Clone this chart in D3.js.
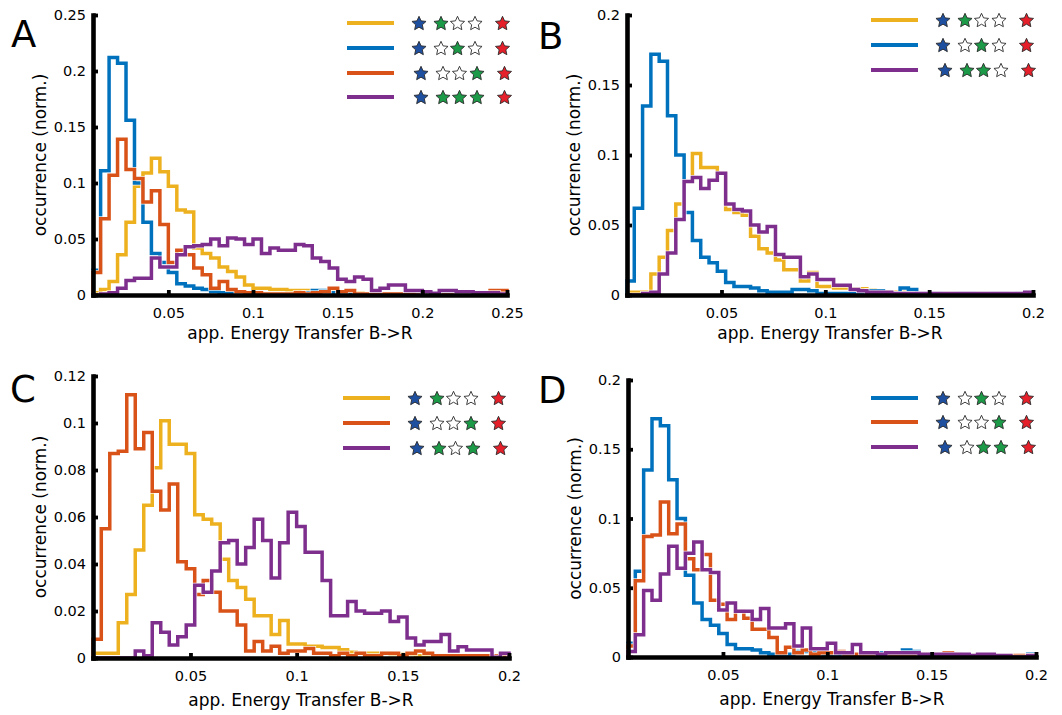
<!DOCTYPE html>
<html>
<head>
<meta charset="utf-8">
<script src="https://cdn.jsdelivr.net/npm/d3@7"></script>
<style>
  body { margin: 0; background: #fff; }
  svg text { font-family: "DejaVu Sans", sans-serif; fill: #000; }
</style>
</head>
<body>
<svg id="fig" width="1062" height="715"></svg>
<script>
// bin heights
// panel A: bins of 0.005 starting at 0.005
const aYellow = [0.002, 0.005, 0.012, 0.036, 0.065, 0.097, 0.109, 0.122, 0.110, 0.097,
  0.076, 0.074, 0.042, 0.037, 0.033, 0.025, 0.021, 0.016, 0.009, 0.006,
  0.006, 0.005, 0.005, 0.004, 0.004, 0.004, 0.003, 0.003, 0.003, 0.002,
  0.002, 0.002, 0.001, 0.001, 0.001, 0.001, 0.001, 0.001, 0.001, 0.001,
  0, 0, 0, 0, 0, 0, 0, 0, 0]
const aBlue = [0.022, 0.111, 0.212, 0.207, 0.156, 0.100, 0.065, 0.037, 0.029, 0.020,
  0.010, 0.008, 0.006, 0.005, 0.003, 0.002, 0.002, 0.001, 0.001, 0.001,
  0.001, 0.001, 0.001, 0.001, 0.001, 0.002, 0.004, 0.004, 0.002, 0.001,
  0.001, 0.001, 0, 0, 0, 0, 0, 0, 0, 0,
  0, 0, 0, 0, 0, 0, 0, 0, 0]
const aOrange = [0.020, 0.068, 0.107, 0.139, 0.112, 0.104, 0.083, 0.093, 0.063, 0.029,
  0.040, 0.036, 0.024, 0.018, 0.006, 0.012, 0.005, 0.003, 0.002, 0.002,
  0.001, 0.001, 0.001, 0.001, 0.002, 0.001, 0.002, 0.003, 0.006, 0.003,
  0.004, 0.001, 0.001, 0.001, 0.001, 0.001, 0.001, 0.001, 0, 0,
  0, 0, 0, 0, 0, 0, 0, 0.004, 0.004]
const aPurple = [0, 0.001, 0.002, 0.006, 0.013, 0.015, 0.015, 0.033, 0.025, 0.025,
  0.036, 0.043, 0.044, 0.045, 0.050, 0.044, 0.051, 0.050, 0.045, 0.050,
  0.037, 0.042, 0.040, 0.040, 0.045, 0.044, 0.033, 0.030, 0.024, 0.014,
  0.012, 0.016, 0.014, 0.004, 0.006, 0.009, 0.009, 0.004, 0.004, 0.003,
  0.0015, 0.004, 0.004, 0.003, 0.003, 0.002, 0.002, 0.002, 0.001]

// panels B, C, D: bins of 0.004 starting at 0.004 (yellow, blue, orange are shared)
const yellow004 = [0.002, 0.002, 0.002, 0.015, 0.027, 0.046, 0.065, 0.081, 0.101, 0.091,
  0.091, 0.087, 0.061, 0.059, 0.057, 0.042, 0.033, 0.030, 0.025, 0.018,
  0.018, 0.010, 0.016, 0.006, 0.006, 0.005, 0.005, 0.0045, 0.0045, 0.0035,
  0.0025, 0.002, 0.002, 0.002, 0.002, 0.0015, 0.0015, 0.0015, 0.001, 0.001,
  0.001, 0.001, 0.001, 0.001, 0, 0, 0, 0, 0]
const blue004 = [0.010, 0.062, 0.135, 0.172, 0.167, 0.128, 0.100, 0.059, 0.039, 0.027,
  0.023, 0.017, 0.009, 0.006, 0.006, 0.005, 0.003, 0.002, 0.002, 0.002,
  0.004, 0.004, 0.003, 0.001, 0.001, 0.001, 0.001, 0.001, 0.002, 0.003,
  0.003, 0.001, 0.001, 0.005, 0.004, 0.001, 0.001, 0.001, 0, 0,
  0.001, 0.001, 0, 0, 0.001, 0.001, 0, 0.001, 0.002]
const orange004 = [0.008, 0.055, 0.087, 0.088, 0.112, 0.089, 0.096, 0.071, 0.063, 0.074,
  0.041, 0.038, 0.027, 0.033, 0.028, 0.020, 0.020, 0.014, 0.003, 0.007,
  0.003, 0.005, 0.002, 0.003, 0.003, 0.004, 0.002, 0.002, 0.001, 0.002,
  0.001, 0.002, 0.001, 0.001, 0.002, 0.002, 0.001, 0.002, 0.003, 0.002,
  0.001, 0.001, 0.001, 0.001, 0.001, 0.001, 0.001, 0.001, 0.001]
const purpleB = [0, 0, 0.001, 0.002, 0.015, 0.030, 0.054, 0.081, 0.084, 0.076,
  0.082, 0.087, 0.065, 0.061, 0.060, 0.050, 0.045, 0.049, 0.029, 0.027,
  0.027, 0.013, 0.015, 0.011, 0.011, 0.007, 0.007, 0.004, 0.003, 0.002,
  0.002, 0.002, 0.001, 0.001, 0.001, 0.001, 0.001, 0.001, 0.001, 0.001,
  0.001, 0.001, 0.001, 0.001, 0.001, 0.001, 0.001, 0.001, 0.002]
const purpleC = [0, 0, 0, 0, 0, 0.003, 0.001, 0.015, 0.011, 0.0055,
  0.009, 0.014, 0.031, 0.028, 0.037, 0.049, 0.050, 0.040, 0.047, 0.059,
  0.050, 0.034, 0.049, 0.062, 0.056, 0.045, 0.045, 0.033, 0.018, 0.018,
  0.024, 0.020, 0.019, 0.019, 0.020, 0.0155, 0.0175, 0.0085, 0.0055, 0.007,
  0.007, 0.010, 0.003, 0.0048, 0.0034, 0.0034, 0.0034, 0.0003, 0.002]
const purpleD = [0.004, 0.016, 0.048, 0.041, 0.060, 0.080, 0.064, 0.075, 0.083, 0.063,
  0.061, 0.034, 0.039, 0.033, 0.033, 0.027, 0.035, 0.021, 0.021, 0.024,
  0.008, 0.021, 0.006, 0.006, 0.010, 0.003, 0.003, 0.009, 0.003, 0.003,
  0.002, 0.003, 0.003, 0.003, 0.003, 0.002, 0.002, 0.002, 0.002, 0.002,
  0.002, 0.001, 0.002, 0.002, 0.001, 0.001, 0, 0, 0.001]

// ticks
const xTicksA = [0.05, 0.1, 0.15, 0.2, 0.25]
const yTicksA = [0, 0.05, 0.1, 0.15, 0.2, 0.25]
const xTicks02 = [0.05, 0.1, 0.15, 0.2]
const yTicks02 = [0, 0.05, 0.1, 0.15, 0.2]
const yTicksC = [0, 0.02, 0.04, 0.06, 0.08, 0.1, 0.12]

// legend star patterns: B blue, G green, W empty, R red
const legendA = ["BGWWR", "BWGWR", "BWWGR", "BGGGR"]
const legendB = ["BGWWR", "BWGWR", "BGGWR"]
const legendC = ["BGWWR", "BWWGR", "BGWGR"]
const legendD = ["BWGWR", "BWWGR", "BWGGR"]

const colors = { yellow: "#EDB120", blue: "#0072BD", orange: "#D95319", purple: "#7E2F8E" }
const starFill = { B: "#1f4f9f", G: "#1c9a47", W: "#ffffff", R: "#e5202a" }
const starDx = [25, 47, 63.5, 81, 108.5]

const svg = d3.select("#fig")
const fmt = d => String(+d.toFixed(3))

// fat 5 point star, a bit rounder than d3.symbolStar
const starPath = (function () {
    const pts = d3.range(10).map(i => {
        const r = i % 2 === 0 ? 7.4 : 3.5
        const a = -Math.PI / 2 + i * Math.PI / 5
        return [r * Math.cos(a), r * Math.sin(a) + 0.7]
    })
    return "M" + pts.join("L") + "Z"
})()

function drawPanel(p) {
    const x = d3.scaleLinear().domain(p.xDomain).range([p.left, p.right])
    const y = d3.scaleLinear().domain([0, p.yMax]).range([p.bottom, p.top])
    const g = svg.append("g")

    // histograms as stairs
    const line = d3.line()
        .x(d => x(Math.max(d[0], p.xDomain[0])))
        .y(d => y(d[1]))
    p.series.forEach(([col, vals]) => {
        const pts = [[p.binStart, 0]]
        vals.forEach((v, i) => {
            pts.push([p.binStart + i * p.binWidth, v])
            pts.push([p.binStart + (i + 1) * p.binWidth, v])
        })
        pts.push([p.binStart + vals.length * p.binWidth, 0])
        g.append("path")
            .attr("d", line(pts))
            .attr("fill", "none")
            .attr("stroke", "#fff")
            .attr("stroke-opacity", 0.85)
            .attr("stroke-width", 5)
        g.append("path")
            .attr("d", line(pts))
            .attr("fill", "none")
            .attr("stroke", colors[col])
            .attr("stroke-width", 3.5)
    })

    // axes
    const xAxis = g.append("g")
        .attr("transform", `translate(0,${p.bottom})`)
        .call(d3.axisBottom(x).tickValues(p.xTicks).tickFormat(fmt)
            .tickSizeInner(-5).tickSizeOuter(0).tickPadding(13))
    const yAxis = g.append("g")
        .attr("transform", `translate(${p.left},0)`)
        .call(d3.axisLeft(y).tickValues(p.yTicks).tickFormat(fmt)
            .tickSizeInner(-5).tickSizeOuter(0).tickPadding(7))
    ;[xAxis, yAxis].forEach(a => {
        a.attr("font-family", null).attr("font-size", null)
        a.select(".domain").attr("stroke", "#000").attr("stroke-width", 4.6)
            .attr("stroke-linecap", "square")
        a.selectAll(".tick line").attr("stroke", "#000").attr("stroke-width", 3.8)
        a.selectAll(".tick text").attr("font-size", "14.5px").attr("fill", "#000")
    })

    g.append("text")
        .attr("x", (p.left + p.right) / 2)
        .attr("y", p.xLabelY)
        .attr("text-anchor", "middle")
        .attr("font-size", "17px")
        .text("app. Energy Transfer B->R")

    g.append("text")
        .attr("transform", `translate(${p.left - 47},${(p.top + p.bottom) / 2}) rotate(-90)`)
        .attr("text-anchor", "middle")
        .attr("font-size", "17px")
        .text("occurrence (norm.)")

    g.append("text")
        .attr("x", p.letterX)
        .attr("y", p.letterY)
        .attr("font-family", "'Open Sans', sans-serif")
        .attr("font-size", "37px")
        .text(p.letter)

    // legend
    p.series.forEach(([col], i) => {
        const ly = p.legendY[i]
        g.append("line")
            .attr("x1", p.legendX).attr("x2", p.legendX + 47)
            .attr("y1", ly).attr("y2", ly)
            .attr("stroke", colors[col])
            .attr("stroke-width", 4)
        p.legend[i].split("").forEach((c, j) => {
            g.append("path")
                .attr("d", starPath)
                .attr("transform", `translate(${p.legendX + 47 + starDx[j] + p.rowShift[i]},${ly})`)
                .attr("fill", starFill[c])
                .attr("stroke", "#2b2b2b")
                .attr("stroke-width", 0.9)
                .attr("stroke-linejoin", "round")
        })
    })
}

const panels = [
    { letter: "A", letterX: 11, letterY: 47, left: 93, right: 507, top: 15, bottom: 295,
      xDomain: [0.0055, 0.25], yMax: 0.25, xTicks: xTicksA, yTicks: yTicksA, xLabelY: 339,
      binStart: 0.005, binWidth: 0.005,
      series: [["yellow", aYellow], ["blue", aBlue], ["orange", aOrange], ["purple", aPurple]],
      legend: legendA, legendX: 347, legendY: [23, 48, 73, 97], rowShift: [0, 0, 2, 2] },
    { letter: "B", letterX: 538, letterY: 49, left: 627, right: 1033, top: 15, bottom: 295,
      xDomain: [0.0045, 0.2], yMax: 0.2, xTicks: xTicks02, yTicks: yTicks02, xLabelY: 339,
      binStart: 0.004, binWidth: 0.004,
      series: [["yellow", yellow004], ["blue", blue004], ["purple", purpleB]],
      legend: legendB, legendX: 871, legendY: [20, 45, 70], rowShift: [0, 0, 2] },
    { letter: "C", letterX: 10, letterY: 402, left: 93, right: 509, top: 376, bottom: 658,
      xDomain: [0.0041, 0.2], yMax: 0.12, xTicks: xTicks02, yTicks: yTicksC, xLabelY: 706,
      binStart: 0.004, binWidth: 0.004,
      series: [["yellow", yellow004], ["orange", orange004], ["purple", purpleC]],
      legend: legendC, legendX: 343, legendY: [398, 423, 448], rowShift: [0, 0, 2] },
    { letter: "D", letterX: 538, letterY: 403, left: 628, right: 1036, top: 380, bottom: 657,
      xDomain: [0.0045, 0.2], yMax: 0.2, xTicks: xTicks02, yTicks: yTicks02, xLabelY: 705,
      binStart: 0.004, binWidth: 0.004,
      series: [["blue", blue004], ["orange", orange004], ["purple", purpleD]],
      legend: legendD, legendX: 871, legendY: [398, 422, 447], rowShift: [0, 0, 2] },
]

panels.forEach(drawPanel)
</script>
</body>
</html>
